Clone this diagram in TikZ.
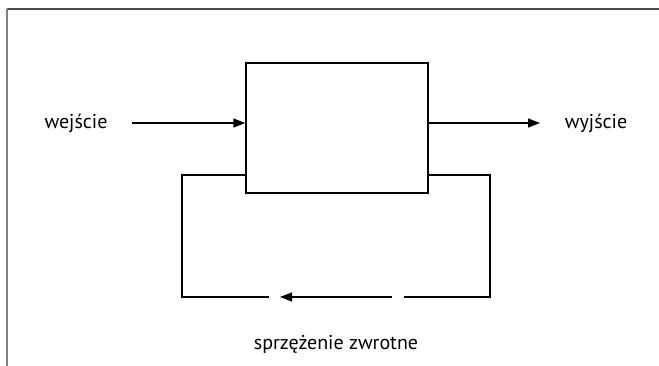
\documentclass[tikz,border=0pt]{standalone}
\usepackage{fontspec}
\setmainfont{PT Sans}
\usetikzlibrary{positioning,arrows.meta}

\begin{document}
\begin{tikzpicture}[
    x=1pt, y=-1pt,
    >={Triangle[length=12pt,width=9pt]},
    block/.style={rectangle, draw, line width=1.4pt, minimum width=182pt, minimum height=130pt, inner sep=0pt},
    wire/.style={line width=1.4pt},
    lbl/.style={font=\fontsize{20}{24}\selectfont, inner sep=0pt}
]
\useasboundingbox (0,0) rectangle (659,366);

% Frame
\draw[black!70, line width=1.2pt] (7,9) -- (659,9);
\draw[gray, line width=1.2pt] (7,366) -- (7,9);

% Rows
\def\yIn{123}
\def\yFb{175}
\def\yLoop{297}

% Lanes
\def\xL{182}
\def\xR{490}

% Block
\node[block] (sys) at (337,128) {};

% Input and output
\node[lbl] (wej) at (76,\yIn) {wejście};
\node[lbl] (wyj) at (596,\yIn) {wyjście};
\coordinate (inS) at (132,\yIn);
\coordinate (outE) at (540,\yIn);

\draw[wire,->] (inS) -- (sys.west |- inS);
\draw[wire,->] (sys.east |- outE) -- (outE);

% Feedback loop
\coordinate (fbL) at (sys.west |- 0,\yFb);
\coordinate (fbR) at (sys.east |- 0,\yFb);
\coordinate (cL) at (\xL,\yLoop);
\coordinate (cR) at (\xR,\yLoop);
\coordinate (gL) at (269,\yLoop);
\coordinate (aE) at (280,\yLoop);
\coordinate (aS) at (392,\yLoop);
\coordinate (gR) at (404,\yLoop);

\draw[wire] (fbR) -| (cR) -- (gR);
\draw[wire,->] (aS) -- (aE);
\draw[wire] (gL) -- (cL) |- (fbL);

\node[lbl] (fb) at (336,344) {sprzężenie zwrotne};
\end{tikzpicture}
\end{document}
